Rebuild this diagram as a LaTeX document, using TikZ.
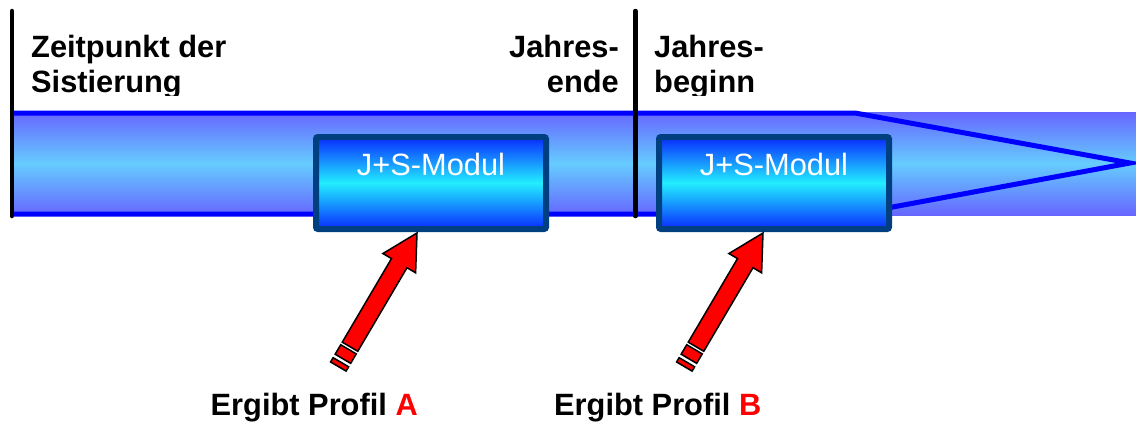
\documentclass[tikz,border=0pt]{standalone}
\usepackage{fontspec}
\setmainfont{Liberation Sans}
\definecolor{bandedge}{HTML}{6666FF}
\definecolor{bandmid}{HTML}{66CCFF}
\definecolor{modtop}{HTML}{0A2AFF}
\definecolor{modmid}{HTML}{22EEFF}
\definecolor{modborder}{HTML}{003F80}
\definecolor{outlineblue}{HTML}{0000FF}
\begin{document}
\begin{tikzpicture}[x=1pt,y=-1pt,
  bigfont/.style={font=\fontsize{30.8}{36}\selectfont},
  toptext/.style={font=\fontsize{30.8}{36}\selectfont\bfseries, inner sep=0pt},
  bottext/.style={font=\fontsize{30.8}{36}\selectfont\bfseries, inner sep=0pt},
  bandline/.style={draw=outlineblue, line width=5pt, line join=miter},
  vline/.style={draw=black, line width=4.5pt, line cap=round},
  modbox/.style={draw=modborder, line width=6pt, rounded corners=2pt,
    top color=modtop, bottom color=modtop, middle color=modmid,
    inner sep=0pt, text width=230pt, align=center,
    text height=38pt, text depth=54pt, text=white,
    font=\fontsize{30.8}{36}\selectfont},
  arrowstyle/.style={fill=red, draw=black, line width=1.5pt, line join=miter},
  redarrow/.pic={
    \draw[arrowstyle] (0pt,0pt) -- (-35pt,19pt) -- (-35pt,9pt) -- (-132pt,9pt)
      -- (-132pt,-9pt) -- (-35pt,-9pt) -- (-35pt,-19pt) -- cycle;
    \draw[arrowstyle] (-135pt,9pt) rectangle (-146pt,-9pt);
    \draw[arrowstyle] (-150pt,9pt) rectangle (-155pt,-9pt);
  }]
\useasboundingbox (0,0) rectangle (1136,421);
% band
\fill[top color=bandedge, bottom color=bandedge, middle color=bandmid] (14,112) rectangle (1136,215);
\coordinate (bandL1) at (14,113);
\coordinate (bandR1) at (855,113);
\coordinate (bandtip) at (1130,163);
\coordinate (bandR2) at (855,214);
\coordinate (bandL2) at (14,214);
\draw[bandline] (bandL1) -- (bandR1) -- (bandtip) -- (bandR2) -- (bandL2);
% vertical markers
\coordinate (v1t) at (12,11);
\coordinate (v1b) at (12,216);
\coordinate (v2t) at (635.5,11);
\coordinate (v2b) at (635.5,216);
\draw[vline] (v1t) -- (v1b);
\draw[vline] (v2t) -- (v2b);
% modules
\node[modbox] (m1) at (431,183) {J+S-Modul};
\node[modbox] (m2) at (774,183) {J+S-Modul};
% arrows
\coordinate (tipA) at (417,233);
\coordinate (tipB) at (763,233);
\pic[rotate=59.5] at (tipA) {redarrow};
\pic[rotate=59.5] at (tipB) {redarrow};
% top labels
\begin{scope}
\clip (0,0) rectangle (1136,95.5);
\node[toptext, anchor=base west] (t1) at (31,57) {Zeitpunkt der};
\node[toptext, anchor=base west] (t2) at (31,92.5) {Sistierung};
\node[toptext, anchor=base east] (t3) at (619,57) {Jahres-};
\node[toptext, anchor=base east] (t4) at (619,92.5) {ende};
\node[toptext, anchor=base west] (t5) at (654,57) {Jahres-};
\node[toptext, anchor=base west] (t6) at (654,92.5) {beginn};
\end{scope}
% bottom labels
\node[bottext, anchor=base west] (la) at (210.5,415) {Ergibt Profil \textcolor{red}{A}};
\node[bottext, anchor=base west] (lb) at (554,415) {Ergibt Profil \textcolor{red}{B}};
\end{tikzpicture}
\end{document}
